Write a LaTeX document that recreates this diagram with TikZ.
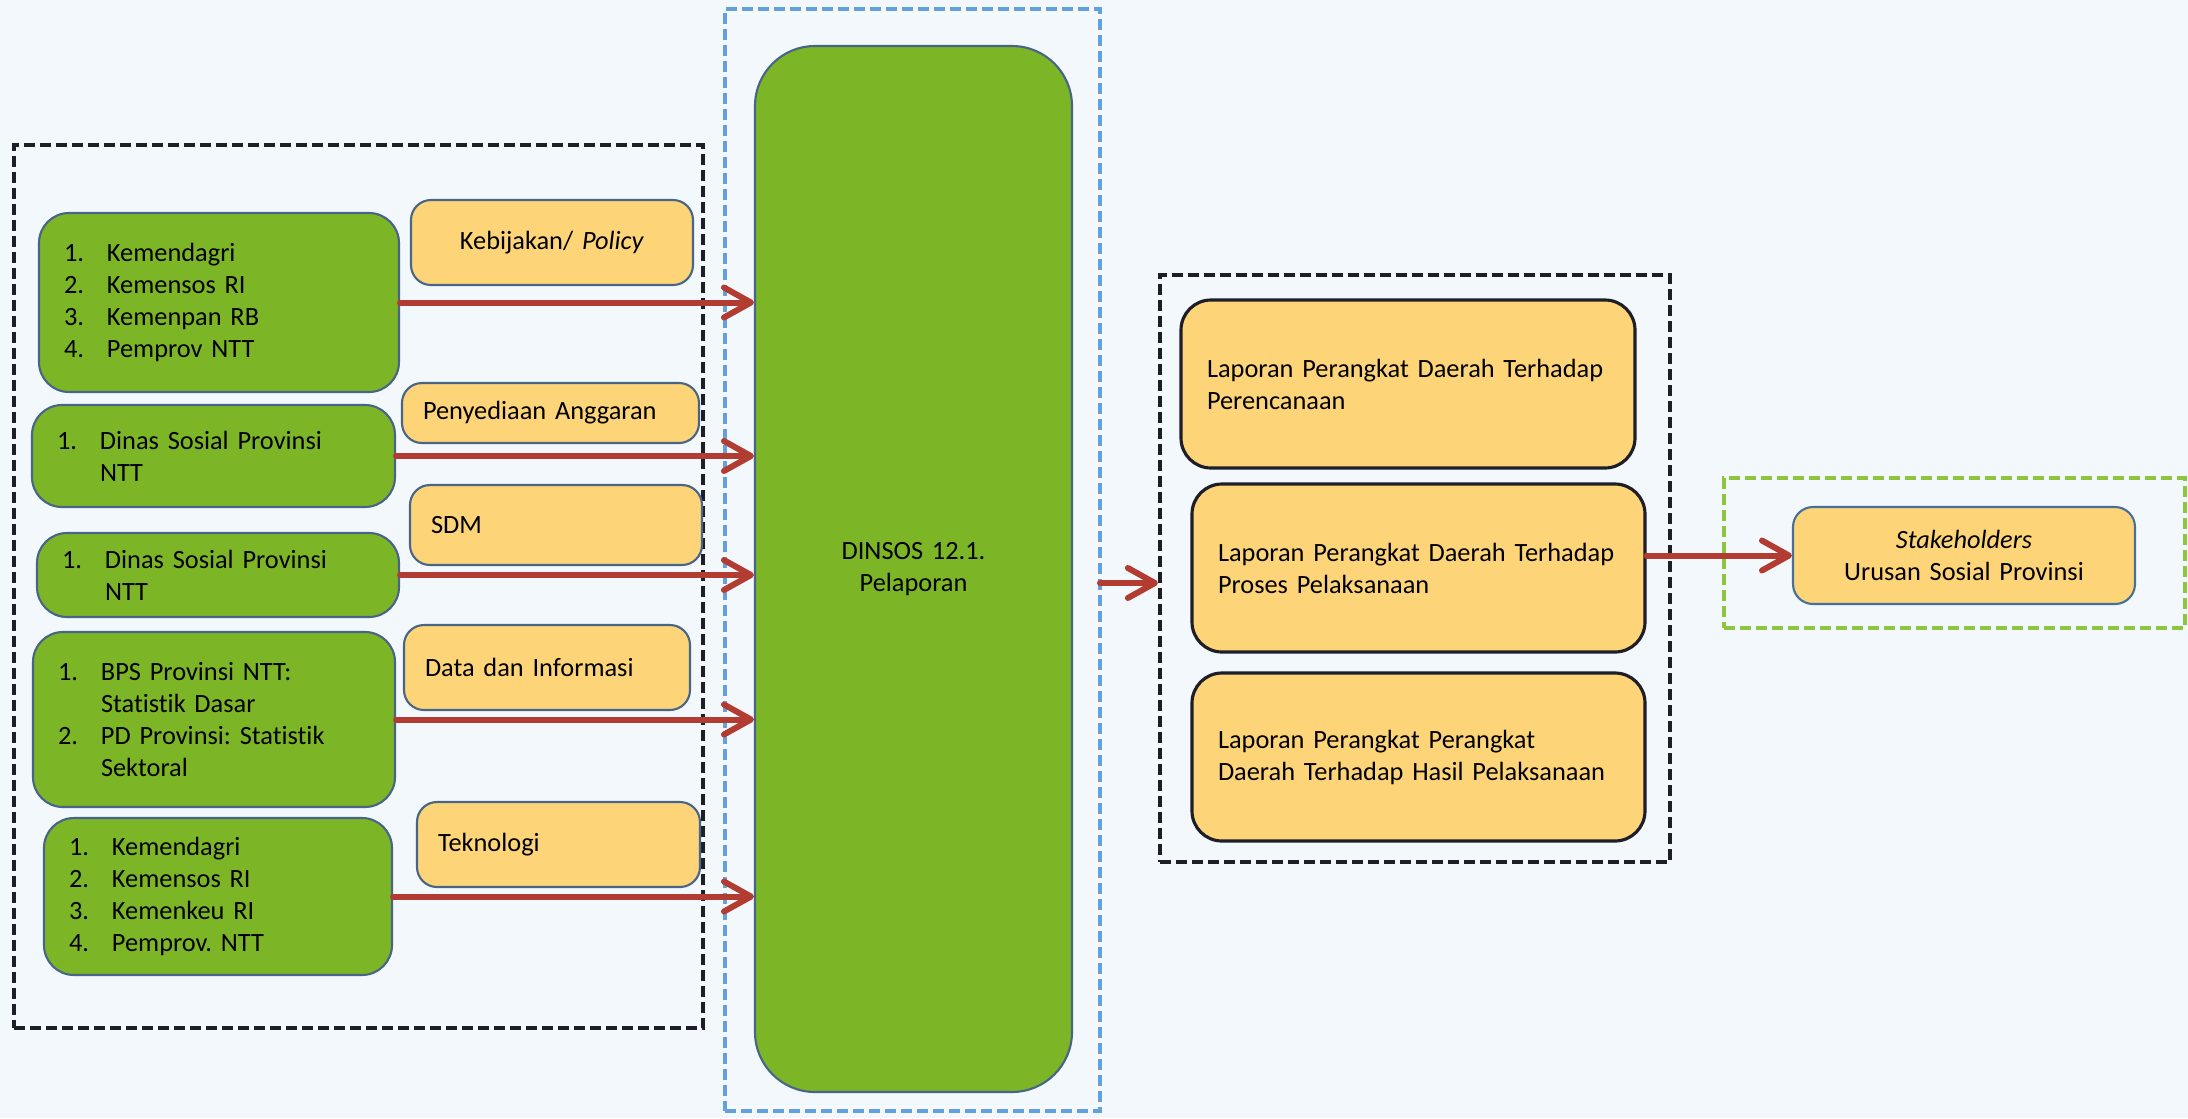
\documentclass[tikz,border=0pt]{standalone}
\usepackage{fontspec}
\setmainfont{Carlito}[Ligatures=NoCommon]
\frenchspacing
\usetikzlibrary{arrows.meta}

\definecolor{bgblue}{RGB}{242,248,251}
\definecolor{leafgreen}{RGB}{124,182,38}
\definecolor{sandyellow}{RGB}{253,213,120}
\definecolor{edgeblue}{RGB}{72,100,135}
\definecolor{rustred}{RGB}{178,60,50}
\definecolor{frameblue}{RGB}{100,160,220}
\definecolor{framegreen}{RGB}{140,198,63}
\definecolor{frameblack}{RGB}{30,30,40}

\newcommand{\numw}{4.3mm}
\newcommand{\numitem}[2]{\makebox[\numw][l]{#1}#2}
\newcommand{\numcont}[1]{\hspace*{\numw}#1}

\tikzset{
    src/.style={draw=edgeblue,line width=0.6pt,fill=leafgreen,rounded corners=3mm,
        align=left,inner xsep=2.5mm,inner ysep=0pt},
    res/.style={draw=edgeblue,line width=0.6pt,fill=sandyellow,rounded corners=2mm,
        align=left,inner xsep=2.1mm,inner ysep=0pt},
    report/.style={draw=frameblack,line width=0.9pt,fill=sandyellow,rounded corners=3mm,
        align=left,inner xsep=2.6mm,inner ysep=0pt,text width=40.1mm,minimum height=16.8mm},
    dashfrm/.style={dash pattern=on 1.1mm off 0.5mm,line width=1.2pt,inner sep=0pt},
    flow/.style={rustred,line width=1.7pt,line cap=round,-{Straight Barb[length=2.7mm,width=3mm,round]}}
}

\begin{document}
\begin{tikzpicture}[x=0.1mm, y=-0.1mm, font=\fontsize{7.5}{9.1}\selectfont]
    \path[use as bounding box,fill=bgblue] (0,0) rectangle (2188,1118);

    % Input side
    \node[dashfrm,draw=frameblack,minimum width=68.9mm,minimum height=88.3mm] (inputfrm) at (358.5,586.5) {};

    \node[src,text width=31mm,minimum height=17.9mm] (g1) at (219,302.5)
        {\numitem{1.}{Kemendagri}\\ \numitem{2.}{Kemensos RI}\\ \numitem{3.}{Kemenpan RB}\\ \numitem{4.}{Pemprov NTT}};
    \node[src,text width=31.3mm,minimum height=10.2mm] (g2) at (213.5,456)
        {\numitem{1.}{Dinas Sosial Provinsi}\\ \numcont{NTT}};
    \node[src,text width=31.2mm,minimum height=8.4mm] (g3) at (218,575)
        {\numitem{1.}{Dinas Sosial Provinsi}\\ \numcont{NTT}};
    \node[src,text width=31.2mm,minimum height=17.5mm] (g4) at (214,719.5)
        {\numitem{1.}{BPS Provinsi NTT:}\\ \numcont{Statistik Dasar}\\ \numitem{2.}{PD Provinsi: Statistik}\\ \numcont{Sektoral}};
    \node[src,text width=29.8mm,minimum height=15.7mm] (g5) at (218,896.5)
        {\numitem{1.}{Kemendagri}\\ \numitem{2.}{Kemensos RI}\\ \numitem{3.}{Kemenkeu RI}\\ \numitem{4.}{Pemprov. NTT}};

    \node[res,text width=24mm,minimum height=8.5mm,align=center] (policy) at (552,242.5) {Kebijakan/ \textit{Policy}};
    \node[res,text width=25.5mm,minimum height=6mm] (budget) at (550.5,413) {Penyediaan Anggaran};
    \node[res,text width=25mm,minimum height=8mm] (staff) at (556,525) {SDM};
    \node[res,text width=24.4mm,minimum height=8.5mm] (data) at (547,667.5) {Data dan Informasi};
    \node[res,text width=24.1mm,minimum height=8.5mm] (tech) at (558.5,844.5) {Teknologi};

    %%%%%%%%%%%%%%%%%%%%%%%%%%%%%%%%%%%%%%%%%%%%%%%%%%%%%%%%%%%%%%%%%%%%%%%%

    % Process
    \node[dashfrm,draw=frameblue,minimum width=37.5mm,minimum height=110.2mm] (processfrm) at (912.5,560) {};
    \node[src,rounded corners=6mm,align=center,text width=26.7mm,minimum height=104.6mm] (dinsos) at (913.5,569)
        {DINSOS 12.1.\\Pelaporan};

    \foreach \g in {g1,g2,g3,g4,g5} {
        \draw[flow] (\g.east) -- (\g.east -| dinsos.west);
    }

    %%%%%%%%%%%%%%%%%%%%%%%%%%%%%%%%%%%%%%%%%%%%%%%%%%%%%%%%%%%%%%%%%%%%%%%%

    % Output side
    \node[dashfrm,draw=frameblack,minimum width=51mm,minimum height=58.7mm] (reportfrm) at (1415,568.5) {};

    \node[report,text width=40.2mm] (l1) at (1408,384)
        {Laporan Perangkat Daerah Terhadap\\Perencanaan};
    \node[report] (l2) at (1418.5,568)
        {Laporan Perangkat Daerah Terhadap\\Proses Pelaksanaan};
    \node[report] (l3) at (1418.5,757)
        {Laporan Perangkat Perangkat\\Daerah Terhadap Hasil Pelaksanaan};

    \coordinate (outlvl) at (1100,583);
    \draw[flow] (outlvl) -- (outlvl -| reportfrm.west);

    %%%%%%%%%%%%%%%%%%%%%%%%%%%%%%%%%%%%%%%%%%%%%%%%%%%%%%%%%%%%%%%%%%%%%%%%

    % Outcome
    \node[dashfrm,draw=framegreen,minimum width=46.1mm,minimum height=15mm] (stakefrm) at (1954.5,553) {};
    \node[res,draw=frameblue!70!black,align=center,text width=30mm,minimum height=9.7mm] (stake) at (1964,555.5)
        {\textit{Stakeholders}\\Urusan Sosial Provinsi};

    \draw[flow] (l2.east |- stake.west) -- (stake.west);
\end{tikzpicture}
\end{document}
